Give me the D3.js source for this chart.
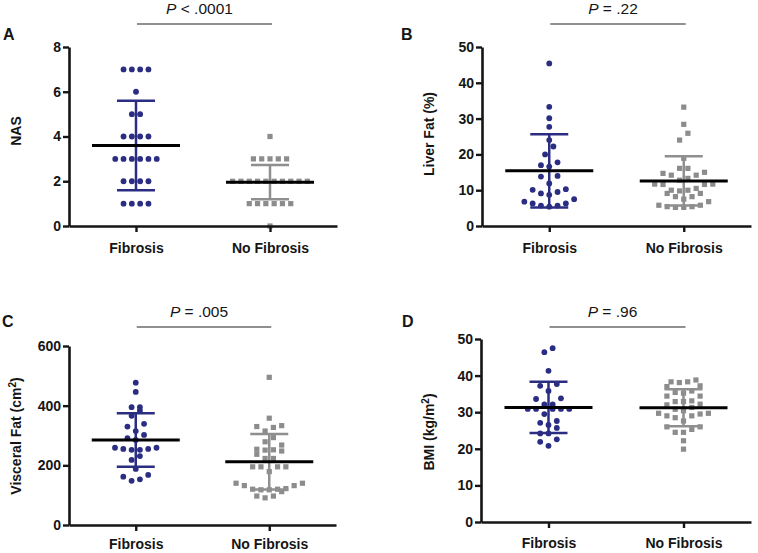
<!DOCTYPE html>
<html><head><meta charset="utf-8">
<script src="https://cdn.jsdelivr.net/npm/d3@7"></script>
<style>
body{margin:0;background:#fff;}
svg{display:block;font-family:"Liberation Sans",Arial,Helvetica,sans-serif;}
</style>
</head><body>
<svg id="chart" width="758" height="553"></svg>
<script>
// ---------------- DATA ----------------
const categories = ["Fibrosis", "No Fibrosis"];

const nasFibrosis   = [7,7,7,7,6,5,5,4,4,4,4,3,3,3,3,3,3,2,2,2,2,1,1,1,1];
const nasNoFibrosis = [4,3,3,3,3,3,2,2,2,2,2,2,2,2,2,2,1,1,1,1,1,1,0];
const nasMean = [3.6, 1.96];
const nasSD   = [2.0, 0.77];
const nasTicks = [0,2,4,6,8];

const liverFibrosis   = [45.4,33.3,30.1,27.7,24.0,22.2,20.0,17.0,17.8,16.6,14.0,13.8,11.9,10.1,10.3,9.1,9.5,8.7,7.5,6.8,6.3,6.3,5.7,5.4,5.7];
const liverNoFibrosis = [33.2,28.4,25.9,24.0,18.9,16.1,16.1,15.0,14.7,14.2,14.2,13.3,12.8,11.7,11.6,11.7,11.6,10.5,10.0,10.0,9.8,9.1,9.1,8.2,8.2,7.5,6.8,5.8,5.4,5.2,5.2,5.4,5.8];
const liverMean = [15.4, 12.6];
const liverSD   = [10.2, 6.9];
const liverTicks = [0,10,20,30,40,50];

const visceralFibrosis   = [477,446,395,395,383,366,339,330,315,302,291,285,259,255,252,252,255,259,231,218,188,168,162,153,148];
const visceralNoFibrosis = [495,358,333,330,327,315,293,279,268,254,252,248,251,237,223,223,195,195,195,195,179,140,140,132,132,120,118,120,118,122,112,97,91,97];
const visceralMean = [285, 212];
const visceralSD   = [90, 93];
const visceralTicks = [0,200,400,600];

const bmiFibrosis   = [47.5,46.4,41.3,37.2,37.7,35.8,33.6,33.8,32.1,32.1,30.9,30.9,30.9,30.9,30.9,29.5,27.6,27.1,26.5,25.7,24.2,24.2,22.6,21.9,20.8];
const bmiNoFibrosis = [38.8,38.3,38.3,38.1,37.2,37.0,35.8,35.4,35.2,34.4,34.4,33.1,32.9,32.9,32.2,32.0,31.3,30.8,30.4,29.7,29.7,29.5,29.0,29.0,28.5,27.6,26.0,26.0,25.3,24.5,24.5,22.2,19.9];
const bmiMean = [31.3, 31.2];
const bmiSD   = [7.0, 5.05];
const bmiTicks = [0,10,20,30,40,50];

const panelLetters = ["A","B","C","D"];
const pTexts = ["< .0001", "= .22", "= .005", "= .96"];
const yLabels = [["NAS"], ["Liver Fat (%)"], ["Visceral Fat (cm","2",")"], ["BMI (kg/m","2",")"]];

// ---------------- STYLE / LAYOUT ----------------
const NAVY = "#2a2d82", GRAY = "#8c8c8c", GRAYBAR = "#8f8f8f", INK = "#151515";
const panels = [
  {x0:69,  x1:337, top:47,  bottom:226, lineY:24,  letterX:3,   letterY:40,  labX:21,  labY:131, pad:11,
   groups:[nasFibrosis,nasNoFibrosis], mean:nasMean, sd:nasSD, ticks:nasTicks},
  {x0:482, x1:751, top:47,  bottom:226, lineY:24,  letterX:401, letterY:40,  labX:434, labY:134, pad:11,
   groups:[liverFibrosis,liverNoFibrosis], mean:liverMean, sd:liverSD, ticks:liverTicks},
  {x0:69,  x1:336, top:346, bottom:525, lineY:327, letterX:2,   letterY:327, labX:21,  labY:436, pad:8,
   groups:[visceralFibrosis,visceralNoFibrosis], mean:visceralMean, sd:visceralSD, ticks:visceralTicks},
  {x0:481, x1:751, top:339, bottom:522, lineY:327, letterX:402, letterY:327, labX:434, labY:432, pad:10,
   groups:[bmiFibrosis,bmiNoFibrosis], mean:bmiMean, sd:bmiSD, ticks:bmiTicks}
];
const colors = [NAVY, GRAY];
const barColors = [NAVY, GRAYBAR];

const svg = d3.select("#chart");

// Prism-like row layout: bin by pixel height, spread symmetrically
function swarm(values, y, spacing, binPx){
  const s = values.map(v => ({v, y:y(v)})).sort((a,b)=>a.v-b.v);
  const out = [];
  let i = 0;
  while (i < s.length){
    const start = s[i].y;
    let j = i;
    while (j < s.length && start - s[j].y <= binPx) j++;
    const bin = s.slice(i, j), n = bin.length;
    bin.forEach((p,k) => {
      let off;
      if (n % 2 === 1){ const m = Math.ceil(k/2); off = k===0 ? 0 : (k%2===1 ? -m : m); }
      else { const m = Math.floor(k/2)+0.5; off = k%2===0 ? -m : m; }
      out.push({v:p.v, y:p.y, dx:off*spacing});
    });
    i = j;
  }
  return out;
}

panels.forEach((P, pi) => {
  const g = svg.append("g");
  const yMax = P.ticks[P.ticks.length-1];
  const y = d3.scaleLinear().domain([0, yMax]).range([P.bottom, P.top]);
  const x = d3.scalePoint().domain(categories).range([P.x0, P.x1]).padding(0.5);

  // points
  P.groups.forEach((vals, gi) => {
    const cx = x(categories[gi]);
    const pts = swarm(vals, y, 8.3, 8);
    if (gi === 0){
      g.selectAll(null).data(pts).enter().append("circle")
        .attr("cx", d => cx + d.dx).attr("cy", d => d.y).attr("r", 2.9)
        .attr("fill", colors[gi]);
    } else {
      g.selectAll(null).data(pts).enter().append("rect")
        .attr("x", d => cx + d.dx - 2.6).attr("y", d => d.y - 2.6)
        .attr("width", 5.2).attr("height", 5.2).attr("fill", colors[gi]);
    }
  });

  // error bars + mean
  categories.forEach((c, gi) => {
    const cx = x(c), m = P.mean[gi], s = P.sd[gi];
    const col = barColors[gi];
    g.append("line").attr("x1", cx).attr("x2", cx).attr("y1", y(m - s)).attr("y2", y(m + s))
      .attr("stroke", col).attr("stroke-width", 2.5);
    [m - s, m + s].forEach(v => {
      g.append("line").attr("x1", cx - 19).attr("x2", cx + 19).attr("y1", y(v)).attr("y2", y(v))
        .attr("stroke", col).attr("stroke-width", 2.5);
    });
    g.append("line").attr("x1", cx - 44).attr("x2", cx + 44).attr("y1", y(m)).attr("y2", y(m))
      .attr("stroke", "#000").attr("stroke-width", 3);
  });

  // axes
  const ya = g.append("g").attr("transform", `translate(${P.x0},0)`)
    .call(d3.axisLeft(y).tickValues(P.ticks).tickSize(6).tickSizeOuter(0).tickPadding(2).tickFormat(d3.format("d")));
  const xa = g.append("g").attr("transform", `translate(0,${P.bottom})`)
    .call(d3.axisBottom(x).tickSize(6).tickSizeOuter(0).tickPadding(P.pad));
  [ya, xa].forEach(a => {
    a.select(".domain").attr("stroke", INK).attr("stroke-width", 2.6);
    a.selectAll(".tick line").attr("stroke", INK).attr("stroke-width", 2.4);
    a.selectAll("text").attr("fill", INK).attr("font-weight", "bold")
      .attr("font-family", '"Liberation Sans", Arial, sans-serif');
  });
  ya.selectAll("text").attr("font-size", 14);
  xa.selectAll("text").attr("font-size", 14);

  // y label
  const lab = g.append("text").attr("transform", `translate(${P.labX},${P.labY}) rotate(-90)`)
    .attr("text-anchor", "middle").attr("font-size", 14).attr("font-weight", "bold").attr("fill", INK);
  const parts = yLabels[pi];
  lab.append("tspan").text(parts[0]);
  if (parts.length > 1){
    lab.append("tspan").attr("font-size", 10).attr("dy", -5).text(parts[1]);
    lab.append("tspan").attr("dy", 5).text(parts[2]);
  }

  // panel letter
  g.append("text").attr("x", P.letterX).attr("y", P.letterY).attr("font-size", 16)
    .attr("font-weight", "bold").attr("fill", INK).text(panelLetters[pi]);

  // p-value bracket
  const xa1 = x(categories[0]) + 1, xa2 = x(categories[1]) + 2;
  g.append("line").attr("x1", xa1).attr("x2", xa2).attr("y1", P.lineY).attr("y2", P.lineY)
    .attr("stroke", "#222").attr("stroke-width", 1.2);
  const t = g.append("text").attr("x", (xa1 + xa2)/2 - 5).attr("y", P.lineY - 10)
    .attr("text-anchor", "middle").attr("font-size", 15.5).attr("fill", INK);
  t.append("tspan").attr("font-style", "italic").text("P");
  t.append("tspan").text(" " + pTexts[pi]);
});
</script>
</body></html>
